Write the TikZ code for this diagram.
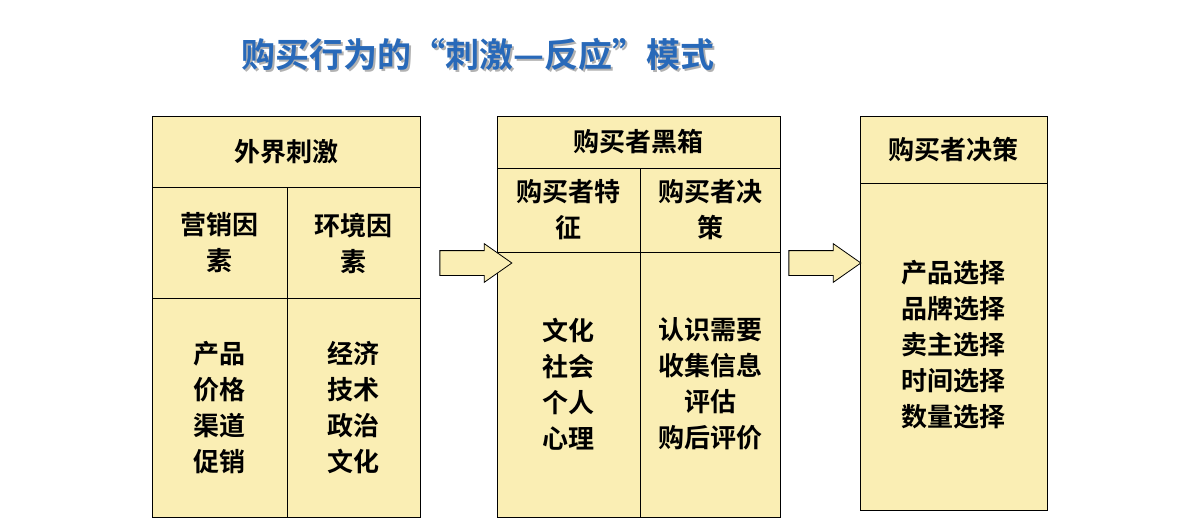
\documentclass[tikz,border=0pt]{standalone}
\usepackage{fontspec}
\newfontfamily\cjk[BoldFont={Noto Sans CJK SC Bold}]{Noto Sans CJK SC}
\usetikzlibrary{shapes.arrows}
\definecolor{boxfill}{RGB}{250,238,180}
\definecolor{titleblue}{RGB}{40,105,185}
\begin{document}
\begin{tikzpicture}[x=1pt,y=-1pt,
    cell/.style ={draw, fill=boxfill, line width=0.8pt},
    word/.style ={font=\cjk\bfseries\fontsize{26}{36}\selectfont, align=center},
    push/.style ={single arrow, draw, fill=boxfill, line width=0.8pt,
      minimum height=72pt, inner xsep=0pt, inner ysep=12pt,
      single arrow head extend=7pt, single arrow tip angle=70}]
   \useasboundingbox (0,0) rectangle (1183,527);
   \node[font=\cjk\bfseries\fontsize{34}{40}\selectfont, text=gray!60] (shadow) at (480,57) {购买行为的“刺激—反应”模式};
   \node[font=\cjk\bfseries\fontsize{34}{40}\selectfont, text=titleblue] (title) at (478,55) {购买行为的“刺激—反应”模式};

   % stimulus
   \draw[cell] (152,116) rectangle (420,517);
   \draw[cell] (152,116) rectangle (420,187);
   \draw[cell] (152,187) rectangle (287,298);
   \draw[cell] (287,187) rectangle (420,298);
   \draw[cell] (152,298) rectangle (287,517);
   \draw[cell] (287,298) rectangle (420,517);
   \node[word] (stim) at (286,152) {外界刺激};
   \node[word] (mkt) at (219,243) {营销因\\素};
   \node[word] (env) at (353,243) {环境因\\素};
   \node[word] (mktlist) at (219,408) {产品\\价格\\渠道\\促销};
   \node[word] (envlist) at (353,408) {经济\\技术\\政治\\文化};

   % black box
   \draw[cell] (497,116) rectangle (780,517);
   \draw[cell] (497,116) rectangle (780,168);
   \draw[cell] (497,168) rectangle (640,252);
   \draw[cell] (640,168) rectangle (780,252);
   \draw[cell] (497,252) rectangle (640,517);
   \draw[cell] (640,252) rectangle (780,517);
   \node[word] (box) at (638,142) {购买者黑箱};
   \node[word] (trait) at (568,210) {购买者特\\征};
   \node[word] (proc) at (710,210) {购买者决\\策};
   \node[word] (traitlist) at (568,384) {文化\\社会\\个人\\心理};
   \node[word] (proclist) at (710,384) {认识需要\\收集信息\\评估\\购后评价};

   % decision
   \draw[cell] (860,116) rectangle (1047,510);
   \draw[cell] (860,116) rectangle (1047,183);
   \node[word] (dec) at (953,150) {购买者决策};
   \node[word] (declist) at (953,345) {产品选择\\品牌选择\\卖主选择\\时间选择\\数量选择};

   \node[push] (arrowa) at (467,263) {};
   \node[push] (arrowb) at (816,263) {};
\end{tikzpicture}
\end{document}
